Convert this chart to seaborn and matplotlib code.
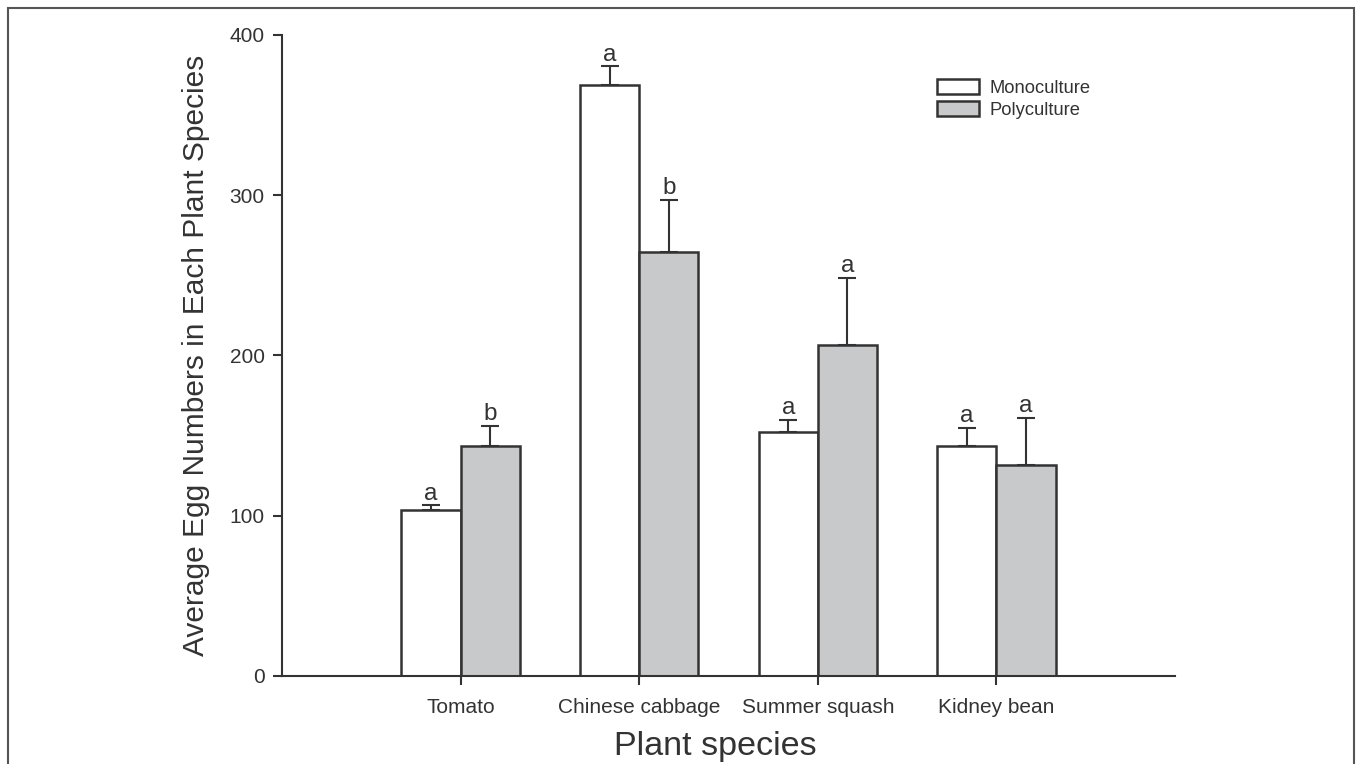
import matplotlib
matplotlib.use("Agg")
import matplotlib.pyplot as plt
import seaborn as sns
import pandas as pd
from matplotlib.patches import Patch, Rectangle

# Data: mean egg counts per plant species and cropping system, with SE (upper bar only)
species = ["Tomato", "Chinese cabbage", "Summer squash", "Kidney bean"]
systems = ["Monoculture", "Polyculture"]
mono_mean = [103.5, 368.5, 152.0, 143.5]
mono_err = [3.0, 12.0, 8.0, 11.5]
poly_mean = [143.5, 264.5, 206.5, 131.5]
poly_err = [12.5, 32.5, 42.0, 29.5]
mono_letters = ["a", "a", "a", "a"]
poly_letters = ["b", "b", "a", "a"]
y_ticks = [0, 100, 200, 300, 400]

df = pd.DataFrame({
    "species": species * 2,
    "system": [systems[0]] * len(species) + [systems[1]] * len(species),
    "eggs": mono_mean + poly_mean,
})

sns.set_theme(style="white")
plt.rcParams["font.family"] = ["Liberation Sans", "DejaVu Sans"]

dark = "#333333"
gray_fill = "#c8c9cb"

fig = plt.figure(figsize=(13.57, 7.64), dpi=100)
ax = fig.add_axes([0.2078, 0.1152, 0.6581, 0.8390])

sns.barplot(data=df, x="species", y="eggs", hue="system", order=species,
            hue_order=systems, palette=["white", gray_fill], edgecolor=dark,
            linewidth=1.8, width=0.662, errorbar=None, legend=False, ax=ax,
            saturation=1)

# upward-only error bars with significance letters above the caps
for cont, errs, letters in zip(ax.containers, [mono_err, poly_err],
                               [mono_letters, poly_letters]):
    for bar, err, letter in zip(cont, errs, letters):
        xc = bar.get_x() + bar.get_width() / 2
        top = bar.get_height()
        ax.errorbar([xc], [top], yerr=[[0], [err]], fmt="none", ecolor=dark,
                    elinewidth=1.5, capsize=6.5, capthick=1.5, zorder=3)
        ax.annotate(letter, xy=(xc, top + err), xytext=(0, 0.5),
                    textcoords="offset points", ha="center", va="bottom",
                    fontsize=17.5, color=dark)

ax.set_xlim(-1, 4)
ax.set_ylim(0, 400)
ax.set_yticks(y_ticks)
ax.set_yticklabels([str(v) for v in y_ticks])

for side in ["top", "right"]:
    ax.spines[side].set_visible(False)
for side in ["left", "bottom"]:
    ax.spines[side].set_color(dark)
    ax.spines[side].set_linewidth(1.5)

ax.tick_params(axis="both", direction="out", length=6.5, width=1.5,
               color=dark, labelcolor=dark, labelsize=15, bottom=True, left=True)
ax.tick_params(axis="x", pad=9)
ax.tick_params(axis="y", pad=6)

ax.set_xlabel("Plant species", fontsize=24.6, color=dark)
ax.xaxis.label.set_va("bottom")
ax.xaxis.set_label_coords(0.4855, -0.1345)
ax.set_ylabel("Average Egg Numbers in Each Plant Species", fontsize=21.5,
              color=dark, labelpad=14)

handles = [Patch(facecolor="white", edgecolor=dark, linewidth=1.8),
           Patch(facecolor=gray_fill, edgecolor=dark, linewidth=1.8)]
fig.legend(handles, systems, loc="upper left",
           bbox_to_anchor=(928 / 1357, 1 - 70 / 764), frameon=False,
           fontsize=13.2, handlelength=2.3, handleheight=0.85,
           handletextpad=0.55, labelspacing=0.25, borderpad=0,
           labelcolor=dark)

# thin outer frame around the figure
fig.patches.append(Rectangle((8 / 1357, -0.05), 1346 / 1357, 1.05 - 8 / 764,
                             transform=fig.transFigure, fill=False,
                             edgecolor="#555555", linewidth=1.5))

fig.savefig("out.png", dpi=100)
